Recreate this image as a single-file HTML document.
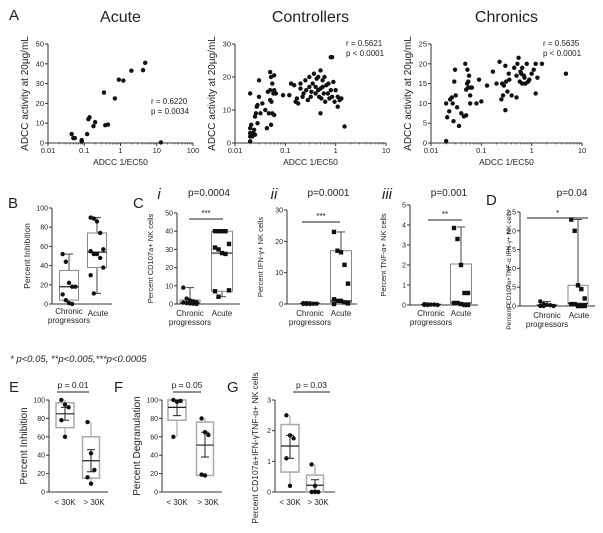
<!DOCTYPE html>
<html><head><meta charset="utf-8">
<style>
html,body{margin:0;padding:0;background:#fff;}
svg{display:block;font-family:"Liberation Sans",Arial,sans-serif;}
</style></head>
<body>
<svg id="fig" width="603" height="533" viewBox="0 0 603 533" xmlns="http://www.w3.org/2000/svg"></svg>
<script>
// ---------- DATA ----------
const acuteX=[0.045,0.05,0.055,0.085,0.085,0.12,0.13,0.14,0.18,0.2,0.35,0.38,0.45,0.7,0.9,1.2,2,4.2,4.8,13];
const acuteY=[4.5,2.5,2.5,1.5,0.8,4.5,12,13,8.5,10.5,25.5,9,9.3,22.5,32,31.5,36.5,36.8,40.5,0.3];
const ctrlX=[0.02,0.02,0.02,0.02,0.02,0.021,0.022,0.023,0.024,0.025,0.025,0.026,0.027,0.028,0.028,0.03,0.03,0.032,0.035,0.04,0.043,0.045,0.047,0.05,0.05,0.05,0.052,0.052,0.053,0.055,0.055,0.058,0.06,0.06,0.06,0.065,0.09,0.12,0.13,0.15,0.16,0.17,0.18,0.2,0.2,0.22,0.23,0.25,0.26,0.28,0.3,0.3,0.32,0.33,0.35,0.37,0.4,0.4,0.42,0.45,0.45,0.47,0.5,0.5,0.5,0.52,0.55,0.55,0.58,0.6,0.62,0.65,0.7,0.72,0.75,0.8,0.8,0.85,0.85,0.9,0.95,1.0,1.1,1.1,1.2,1.3,1.5];
const ctrlY=[0.5,2,3,4.5,15,5.5,2,3,4,2.5,8,9,11,6,11.5,19,14,9,12,10,4.5,15.5,9,13,16,21.5,20,5.5,12.5,9,18,15,16,8.5,20.5,15,14.5,14.5,18,17.5,12.5,13.5,12,16.5,18,14,15,19,16,13,17,20,14,15.5,18,21,15,17,19.5,16,20,14,22,16.5,9,13.5,17,19,15,20,12.5,17.5,15,18,13.5,16,26,26,14,18.5,12.5,16,14,11,13,13.5,5];
const chrX=[0.02,0.02,0.021,0.023,0.024,0.026,0.027,0.028,0.029,0.03,0.031,0.033,0.036,0.04,0.045,0.048,0.05,0.05,0.052,0.053,0.055,0.055,0.057,0.06,0.06,0.062,0.065,0.08,0.09,0.1,0.13,0.17,0.2,0.23,0.25,0.26,0.27,0.28,0.3,0.3,0.31,0.33,0.35,0.36,0.4,0.45,0.5,0.5,0.52,0.55,0.58,0.6,0.62,0.65,0.65,0.7,0.72,0.75,0.8,0.85,0.9,1.0,1.1,1.2,1.2,1.3,1.6,4.8];
const chrY=[0.5,10,6.5,8,11,11.5,10,5.5,15.5,18.5,12,9,4.3,7.5,6.7,20,7,13.5,15,18.5,14,15.5,17,12,10,14,14,10,16,10.5,14.5,18,15,20.5,11,15,12,14.5,19.5,8.3,15.5,13,17.5,16,12,19,11.5,17,20,21.5,15.5,18,17.5,15,19,17,16.5,15,20,15.5,16,17.5,18.5,12.5,20,16.5,20,17.5];
// box stats: [wlo, q1, med, q3, whi]
const bChronicStats=[0,4,18,35,52], bChronicPts=[52,44,22,18,18,10,4,1,0];
const bAcuteStats=[11,38,54,74,90], bAcutePts=[90,89,86,74,57,55,52,52,48,38,30,11];
const ciChronicStats=[0,0.2,0.5,2.2,9], ciChronicPts=[9,3,2,1.5,1,0.8,0.5,0.3,0.2,0];
const ciAcuteStats=[4,7,28,40,40], ciAcutePts=[40,40,40,40,33,31,30,28,27.5,7.5,7,4];
const ciiChronicStats=[0,0,0.1,0.3,0.5], ciiChronicPts=[0.3,0.3,0.2,0.1,0.1,0,0,0];
const ciiAcuteStats=[0,0.5,1,17,23], ciiAcutePts=[23,17,16.5,12.5,6.5,1.5,1,1,0.5,0.2,0];
const ciiiChronicStats=[0,0,0.02,0.04,0.05], ciiiChronicPts=[0.04,0.03,0.02,0.02,0,0,0];
const ciiiAcuteStats=[0,0.1,0.1,2.05,3.9], ciiiAcutePts=[3.85,3.3,2,0.6,0.6,0.1,0.1,0.05,0,0];
const dChronicStats=[0,0,0.01,0.04,0.12], dChronicPts=[0.12,0.05,0.03,0.02,0,0,0];
const dAcuteStats=[0,0.05,0.07,0.55,2.3], dAcutePts=[2.3,2.0,0.55,0.45,0.2,0.05,0.05,0,0,0];
// E/F/G: [wlo,q1,q3,whi,mean,seLo,seHi]
const eLowStats=[60,70,97,100,85,78,92], eLowPts=[100,95,92,78,60];
const eHighStats=[9,15,60,76,34,22,46], eHighPts=[76,42,24,16,9];
const fLowStats=[60,78,100,100,92,83,100], fLowPts=[100,98,99,60];
const fHighStats=[17,18,76,80,51,38,65], fHighPts=[80,65,62,19,18];
const gLowStats=[0.2,0.65,2.2,2.5,1.5,1.1,1.85], gLowPts=[2.5,1.85,1.75,1.1,0.2];
const gHighStats=[0,0,0.55,0.9,0.22,0.05,0.4], gHighPts=[0.9,0.2,0,0,0];

// ---------- HELPERS ----------
const NS="http://www.w3.org/2000/svg";
const svg=document.getElementById('fig');
function el(tag,attrs,parent){const e=document.createElementNS(NS,tag);for(const k in attrs)e.setAttribute(k,attrs[k]);(parent||svg).appendChild(e);return e;}
function txt(x,y,s,size,opts,parent){opts=opts||{};const t=el('text',{x:x,y:y,'font-size':size,'text-anchor':opts.anchor||'middle',fill:opts.fill||'#222'},parent);
 if(opts.italic)t.setAttribute('font-style','italic');
 if(opts.rot!==undefined)t.setAttribute('transform','rotate('+opts.rot+' '+x+' '+y+')');
 t.textContent=s;return t;}
function line(x1,y1,x2,y2,c,w,parent){return el('line',{x1:x1,y1:y1,x2:x2,y2:y2,stroke:c||'#222','stroke-width':w||1},parent);}

function scatterPanel(name,xs,ys,cfg){
 const g=el('g',{});
 
 
 const lx0=Math.log10(cfg.xmin),lx1=Math.log10(cfg.xmax);
 const X=v=>cfg.x0+(Math.log10(v)-lx0)/(lx1-lx0)*(cfg.x1-cfg.x0);
 const Y=v=>cfg.y0-(v/cfg.ymax)*(cfg.y0-cfg.y1);
 line(cfg.x0,cfg.y0,cfg.x1,cfg.y0,'#333',1,g);
 line(cfg.x0,cfg.y0,cfg.x0,cfg.y1,'#333',1,g);
 for(let d=lx0;d<=lx1;d++){
  const xv=X(Math.pow(10,d));line(xv,cfg.y0,xv,cfg.y0+3,'#333',1,g);
  const lab=Math.pow(10,d);txt(xv,cfg.y0+10,lab<1?lab.toString():lab.toFixed(0),7.5,{},g);
  if(d<lx1)for(let m=2;m<10;m++){const xm=X(m*Math.pow(10,d));line(xm,cfg.y0,xm,cfg.y0+1.5,'#333',0.7,g);}
 }
 cfg.yticks.forEach(t=>{const yv=Y(t);line(cfg.x0-3,yv,cfg.x0,yv,'#333',1,g);txt(cfg.x0-4,yv+2.5,String(t),7.5,{anchor:'end'},g);});
 xs.forEach((v,i)=>{const c=el('circle',{cx:X(v),cy:Y(ys[i]),r:2.2,fill:'#111'},g);
  
  });
 txt((cfg.x0+cfg.x1)/2,22,cfg.title,16,{},g);
 txt(cfg.x0-20,(cfg.y0+cfg.y1)/2,'ADCC activity at 20µg/mL',10,{rot:-90},g);
 txt((cfg.x0+cfg.x1)/2,cfg.y0+22,'ADCC 1/EC50',8.5,{},g);
 txt(cfg.rx,cfg.ry,cfg.r,8,{anchor:'start'},g);
 txt(cfg.rx,cfg.ry+10,cfg.p,8,{anchor:'start'},g);
}

function boxAxis(g,cfg){
 line(cfg.x0,cfg.y0,cfg.x1,cfg.y0,'#333',1,g);
 line(cfg.x0,cfg.y0,cfg.x0,cfg.y1,'#333',1,g);
 cfg.yticks.forEach(t=>{const yv=cfg.y0-(t/cfg.ymax)*(cfg.y0-cfg.y1);line(cfg.x0-3,yv,cfg.x0,yv,'#333',1,g);txt(cfg.x0-4,yv+2.5,cfg.fmt?t.toFixed(1):String(t),7,{anchor:'end'},g);});
}
function boxPlot(g,cfg,cx,w,st,pts,shape,name){
 const Y=v=>cfg.y0-(v/cfg.ymax)*(cfg.y0-cfg.y1);
 const bg=el('g',{},g);
 
 
 line(cx,Y(st[0]),cx,Y(st[1]),'#444',1,bg);line(cx,Y(st[3]),cx,Y(st[4]),'#444',1,bg);
 line(cx-4,Y(st[0]),cx+4,Y(st[0]),'#444',1,bg);line(cx-4,Y(st[4]),cx+4,Y(st[4]),'#444',1,bg);
 el('rect',{x:cx-w/2,y:Y(st[3]),width:w,height:Math.max(0.5,Y(st[1])-Y(st[3])),fill:'none',stroke:'#888','stroke-width':1},bg);
 line(cx-w/2,Y(st[2]),cx+w/2,Y(st[2]),'#222',1.2,bg);
 pts.forEach((v,i)=>{const off=((i%5)-2)*w/6;const px=cx+off,py=Y(v);let m;
  if(shape==='sq')m=el('rect',{x:px-2.2,y:py-2.2,width:4.4,height:4.4,fill:'#111'},bg);
  else m=el('circle',{cx:px,cy:py,r:2.2,fill:'#111'},bg);
  
  });
}
function meanBox(g,cfg,cx,w,st,pts,name){
 const Y=v=>cfg.y0-(v/cfg.ymax)*(cfg.y0-cfg.y1);
 const bg=el('g',{},g);
 
 
 el('rect',{x:cx-w/2,y:Y(st[2]),width:w,height:Y(st[1])-Y(st[2]),fill:'none',stroke:'#aaa','stroke-width':1.5},bg);
 line(cx,Y(st[0]),cx,Y(st[1]),'#aaa',1.2,bg);line(cx,Y(st[2]),cx,Y(st[3]),'#aaa',1.2,bg);
 line(cx-w/2,Y(st[4]),cx+w/2,Y(st[4]),'#222',1.2,bg);
 line(cx,Y(st[5]),cx,Y(st[6]),'#222',1,bg);
 line(cx-4,Y(st[5]),cx+4,Y(st[5]),'#222',1,bg);line(cx-4,Y(st[6]),cx+4,Y(st[6]),'#222',1,bg);
 pts.forEach((v,i)=>{const off=((i%3)-1)*w/5;const m=el('circle',{cx:cx+off,cy:Y(v),r:2.2,fill:'#111'},bg);
  
  });
}
function sig(g,x1,x2,y,label,ly){line(x1,y,x2,y,'#222',1,g);if(label)txt((x1+x2)/2,ly||y-3,label,8,{},g);}

// ---------- PANEL A ----------
txt(9,20,'A',15,{anchor:'start'});
scatterPanel('scatter-acute',acuteX,acuteY,{x0:48,x1:193,y0:143,y1:44,xmin:0.01,xmax:100,ymax:50,yticks:[0,10,20,30,40,50],title:'Acute',r:'r = 0.6220',p:'p = 0.0034',rx:151,ry:104});
scatterPanel('scatter-controllers',ctrlX,ctrlY,{x0:235,x1:386,y0:143,y1:44,xmin:0.01,xmax:10,ymax:30,yticks:[0,10,20,30],title:'Controllers',r:'r = 0.5621',p:'p < 0.0001',rx:346,ry:46});
scatterPanel('scatter-chronics',chrX,chrY,{x0:431,x1:582,y0:143,y1:44,xmin:0.01,xmax:10,ymax:25,yticks:[0,5,10,15,20,25],title:'Chronics',r:'r = 0.5635',p:'p < 0.0001',rx:543,ry:46});

// ---------- PANEL B ----------
txt(8,208,'B',15,{anchor:'start'});
(function(){const g=el('g',{});
 const c={x0:52,x1:112,y0:304,y1:208,ymax:100,yticks:[0,20,40,60,80,100]};boxAxis(g,c);
 boxPlot(g,c,69,19,bChronicStats,bChronicPts,'circ','box-chronic');boxPlot(g,c,97,19,bAcuteStats,bAcutePts,'circ','box-acute');
 txt(30,256,'Percent Inhibition',8.5,{rot:-90},g);
 txt(69,314,'Chronic',8,{},g);txt(69,323,'progressors',8,{},g);txt(98,316,'Acute',8,{},g);})();

// ---------- PANEL C ----------
txt(133,208,'C',15,{anchor:'start'});
function cPanel(name,c,chSt,chPts,acSt,acPts,ytitle,ptxt,roman,rx,stars,sy,cx1,cx2,lx1,lx2){
 const g=el('g',{});
 boxAxis(g,c);
 boxPlot(g,c,cx1,20,chSt,chPts,'circ','box-chronic');boxPlot(g,c,cx2,21,acSt,acPts,'sq','box-acute');
 txt(c.x0-24,(c.y0+c.y1)/2,ytitle,7.5,{rot:-90},g);
 txt(cx1,316,'Chronic',8,{},g);txt(cx1,325,'progressors',8,{},g);txt(cx2,316,'Acute',8,{},g);
 txt((cx1+cx2)/2+3,196,ptxt,10,{},g);
 if(roman)txt(rx,199,roman,15,{italic:true},g);
 sig(g,lx1,lx2,sy,stars,sy-3);
}
cPanel('panel-c-i',{x0:177,x1:240,y0:304,y1:213,ymax:50,yticks:[0,10,20,30,40,50]},ciChronicStats,ciChronicPts,ciAcuteStats,ciAcutePts,'Percent CD107a+ NK cells','p=0.0004','i',159,'***',219,190,222,189,223);
cPanel('panel-c-ii',{x0:287,x1:357,y0:304,y1:210,ymax:30,yticks:[0,10,20,30]},ciiChronicStats,ciiChronicPts,ciiAcuteStats,ciiAcutePts,'Percent IFN-γ+ NK cells','p=0.0001','ii',274,'***',222,310,341,302,340);
cPanel('panel-c-iii',{x0:410,x1:478,y0:305,y1:205,ymax:5,yticks:[0,1,2,3,4,5]},ciiiChronicStats,ciiiChronicPts,ciiiAcuteStats,ciiiAcutePts,'Percent TNF-α+ NK cells','p=0.001','iii',387,'**',220,431,461,428,462);

// ---------- PANEL D ----------
txt(486,205,'D',15,{anchor:'start'});
(function(){const g=el('g',{});
 const c={x0:520,x1:595,y0:306,y1:212,ymax:2.5,yticks:[0,0.5,1,1.5,2,2.5],fmt:true};boxAxis(g,c);
 boxPlot(g,c,547,20,dChronicStats,dChronicPts,'circ','box-chronic');boxPlot(g,c,578,20,dAcuteStats,dAcutePts,'sq','box-acute');
 txt(511,270,'Percent CD107a+TNF-α IFN-γ+ NK cells',6.6,{rot:-90},g);
 txt(547,318,'Chronic',8,{},g);txt(547,327,'progressors',8,{},g);txt(579,318,'Acute',8,{},g);
 txt(572,196,'p=0.04',10,{},g);sig(g,527,588,218,'*',216);})();

// footnote
txt(10,362,'* p<0.05, **p<0.005,***p<0.0005',9.5,{anchor:'start',italic:true});

// ---------- PANELS E F G ----------
function efg(name,letter,lx,c,lowSt,lowPts,hiSt,hiPts,ytitle,ytx,ptxt,cx1,cx2,sx1,sx2,fs,yc){
 txt(lx,392,letter,15,{anchor:'start'});
 const g=el('g',{});
 boxAxis(g,c);
 meanBox(g,c,cx1,18,lowSt,lowPts,'box-under-30k');meanBox(g,c,cx2,17,hiSt,hiPts,'box-over-30k');
 txt(ytx,yc,ytitle,fs,{rot:-90},g);
 txt(cx1,505,'< 30K',8,{},g);txt(cx2+3,505,'> 30K',8,{},g);
 txt((sx1+sx2)/2,388,ptxt,8.5,{},g);line(sx1,392,sx2,392,'#222',1,g);
}
efg('panel-e','E',9,{x0:49,x1:108,y0:492,y1:400,ymax:100,yticks:[0,20,40,60,80,100]},eLowStats,eLowPts,eHighStats,eHighPts,'Percent Inhibition',27,'p = 0.01',65,91,57,89,10,446);
efg('panel-f','F',114,{x0:162,x1:222,y0:492,y1:400,ymax:100,yticks:[0,20,40,60,80,100]},fLowStats,fLowPts,fHighStats,fHighPts,'Percent Degranulation',140,'p = 0.05',177,205,173,201,10,446);
efg('panel-g','G',227,{x0:275,x1:335,y0:492,y1:400,ymax:3,yticks:[0,1,2,3]},gLowStats,gLowPts,gHighStats,gHighPts,'Percent CD107a+IFN-γTNF-α+ NK cells',258,'p = 0.03',290,315,293,330,8.5,448);
</script>
</body></html>
